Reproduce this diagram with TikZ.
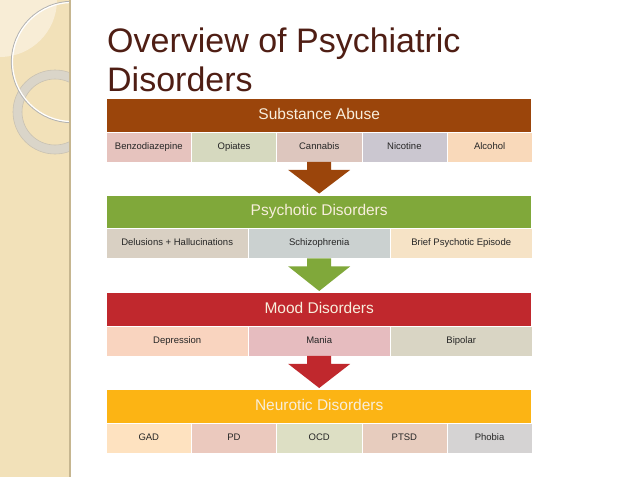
\documentclass[tikz,border=0pt]{standalone}
\usepackage{fontspec}
\setmainfont{Liberation Sans}
\usetikzlibrary{calc}
\definecolor{side}{HTML}{F2E1B9}
\definecolor{sideedge}{HTML}{C6B690}
\definecolor{lens}{HTML}{F8EDD6}
\definecolor{ringc}{HTML}{DAD5C9}
\definecolor{ringedge}{HTML}{C9C2B2}
\definecolor{titlec}{HTML}{4F1E14}
\definecolor{hbrown}{HTML}{9B450B}
\definecolor{hgreen}{HTML}{80A83A}
\definecolor{hred}{HTML}{C0282D}
\definecolor{hamber}{HTML}{FCB414}
\definecolor{hdrtext}{HTML}{F8EEDC}
\definecolor{celltext}{HTML}{262626}
\definecolor{ca1}{HTML}{E6C3BE}
\definecolor{ca2}{HTML}{D6D9BF}
\definecolor{ca3}{HTML}{DDC6BE}
\definecolor{ca4}{HTML}{CBC7D0}
\definecolor{ca5}{HTML}{F9D9BA}
\definecolor{cb1}{HTML}{D9D0C3}
\definecolor{cb2}{HTML}{CBD1D0}
\definecolor{cb3}{HTML}{F6E3C6}
\definecolor{cc1}{HTML}{F9D4BF}
\definecolor{cc2}{HTML}{E6BCBF}
\definecolor{cc3}{HTML}{D9D5C4}
\definecolor{cd1}{HTML}{FEE2C0}
\definecolor{cd2}{HTML}{EBC9BE}
\definecolor{cd3}{HTML}{DDDFC4}
\definecolor{cd4}{HTML}{E7CCBE}
\definecolor{cd5}{HTML}{D5D3D3}
\newcommand\flowarrow[3]{%
  \fill[#3] ($(#1)+(-12,0)$) -- ($(#1)+(12,0)$) -- ($(#1)+(12,8)$) -- ($(#1)+(31,8)$)
    -- ($(#2)+(0,-2)$) -- ($(#1)+(-31,8)$) -- ($(#1)+(-12,8)$) -- cycle;}
\begin{document}
\begin{tikzpicture}[x=1pt,y=-1pt,
  hdr/.style={anchor=north west, minimum width=424pt, minimum height=32.5pt, inner sep=0pt,
    text height=11pt, text depth=3pt,
    font=\fontsize{15.5}{18}\selectfont, text=hdrtext},
  cell/.style={anchor=north west, minimum height=30pt, inner sep=0pt,
    text height=7pt, text depth=2pt,
    font=\fontsize{9.5}{11}\selectfont, text=celltext, draw=white, line width=0.4pt},
  cfive/.style={cell, minimum width=85.2pt},
  cthree/.style={cell, minimum width=142pt},
  titletext/.style={anchor=base west, inner sep=0pt, text=titlec, font=\fontsize{34}{40}\selectfont}]
\useasboundingbox (0,0) rectangle (638,479);
\fill[white] (0,0) rectangle (638,479);
% sidebar
\fill[side] (0,0) rectangle (70,477);
\begin{scope}
  \clip (0,0) rectangle (70,477);
  \fill[lens] (0,0) circle (57);
  \draw[ringc, line width=9pt] (55,112) circle (37.5);
  \draw[ringedge, line width=0.6pt] (55,112) circle (42);
  \draw[ringedge, line width=0.6pt] (55,112) circle (33);
  \draw[black!30, line width=1pt] (72,62) circle (60.6);
  \draw[white, line width=1.2pt] (72,62) circle (59.5);
\end{scope}
\draw[sideedge, line width=1.5pt] (70,0) -- (70,477);
% title
\node[titletext] (t1) at (107,52.5) {Overview of Psychiatric};
\node[titletext] (t2) at (107,91.5) {Disorders};
% row 1
\node[hdr, fill=hbrown] (h1) at (107,99) {Substance Abuse};
\node[cfive, fill=ca1] (c11) at (106,131.5) {Benzodiazepine};
\node[cfive, fill=ca2] (c12) at (191.2,131.5) {Opiates};
\node[cfive, fill=ca3] (c13) at (276.4,131.5) {Cannabis};
\node[cfive, fill=ca4] (c14) at (361.6,131.5) {Nicotine};
\node[cfive, fill=ca5] (c15) at (446.8,131.5) {Alcohol};
% row 2
\node[hdr, fill=hgreen] (h2) at (107,195.5) {Psychotic Disorders};
\node[cthree, fill=cb1] (c21) at (106,228) {Delusions + Hallucinations};
\node[cthree, fill=cb2] (c22) at (248,228) {Schizophrenia};
\node[cthree, fill=cb3] (c23) at (390,228) {Brief Psychotic Episode};
% row 3
\node[hdr, fill=hred] (h3) at (107,293) {Mood Disorders};
\node[cthree, fill=cc1] (c31) at (106,325.5) {Depression};
\node[cthree, fill=cc2] (c32) at (248,325.5) {Mania};
\node[cthree, fill=cc3] (c33) at (390,325.5) {Bipolar};
% row 4
\node[hdr, fill=hamber] (h4) at (107,390) {Neurotic Disorders};
\node[cfive, fill=cd1] (c41) at (106,422.5) {GAD};
\node[cfive, fill=cd2] (c42) at (191.2,422.5) {PD};
\node[cfive, fill=cd3] (c43) at (276.4,422.5) {OCD};
\node[cfive, fill=cd4] (c44) at (361.6,422.5) {PTSD};
\node[cfive, fill=cd5] (c45) at (446.8,422.5) {Phobia};
% arrows
\flowarrow{c13.south}{h2.north}{hbrown}
\flowarrow{c22.south}{h3.north}{hgreen}
\flowarrow{c32.south}{h4.north}{hred}
\end{tikzpicture}
\end{document}
